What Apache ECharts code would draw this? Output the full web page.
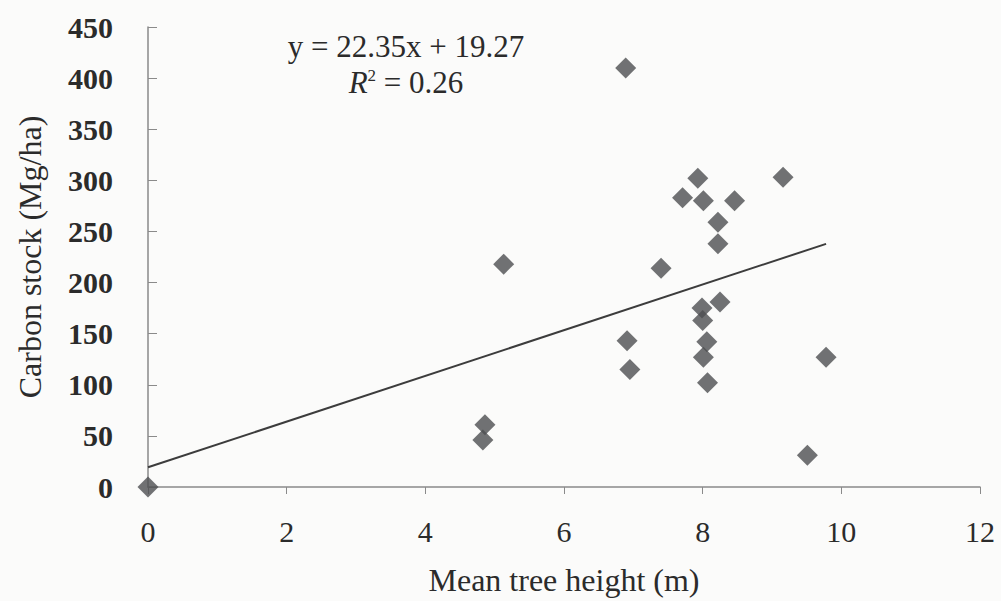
<!DOCTYPE html>
<html>
<head>
<meta charset="utf-8">
<script src="https://cdn.jsdelivr.net/npm/echarts@6/dist/echarts.min.js"></script>
<style>
html,body{margin:0;padding:0;background:#fbfbfa;}
#chart{width:1001px;height:601px;}
</style>
</head>
<body>
<div id="chart"></div>
<script>
// Mean tree height (m)
const heights = [0, 4.86, 4.83, 5.13, 6.89, 6.91, 6.95, 7.40, 7.71, 7.93, 8.01, 8.46, 8.22, 8.22, 8.25, 7.99, 8.00, 8.06, 8.01, 8.07, 9.16, 9.78, 9.51];
// Carbon stock (Mg/ha)
const carbon = [0, 61, 46, 218, 410, 143, 115, 214, 283, 302, 280, 280, 259, 238, 181, 175, 163, 142, 127, 102, 303, 127, 31];
// Regression reported on the chart
const slope = 22.35;
const intercept = 19.27;
const eqText = 'y = 22.35x + 19.27';
const r2Text = '= 0.26';
const xTicks = [0, 2, 4, 6, 8, 10, 12];
const yTicks = [0, 50, 100, 150, 200, 250, 300, 350, 400, 450];
const xTitle = 'Mean tree height (m)';
const yTitle = 'Carbon stock (Mg/ha)';

const points = heights.map((h, i) => [h, carbon[i]]);
const xMax = Math.max(...heights);
const trend = [[0, intercept], [xMax, slope * xMax + intercept]];

const FONT = "'Liberation Serif', 'Times New Roman', serif";
const TXT = '#2b2b2b';

const chart = echarts.init(document.getElementById('chart'), null, {renderer: 'svg'});
chart.setOption({
  backgroundColor: '#fbfbfa',
  animation: false,
  grid: {left: 148, right: 21, top: 27, bottom: 111},
  xAxis: {
    type: 'value', min: xTicks[0], max: xTicks[xTicks.length - 1], interval: 2,
    name: xTitle, nameLocation: 'middle', nameGap: 77,
    nameTextStyle: {fontFamily: FONT, fontSize: 32, color: TXT},
    axisLine: {show: true, onZero: false, lineStyle: {color: '#8a8a8a', width: 1.5}},
    axisTick: {show: true, inside: false, length: 7, lineStyle: {color: '#8a8a8a'}},
    splitLine: {show: false},
    axisLabel: {fontFamily: FONT, fontSize: 30, color: TXT, margin: 29}
  },
  yAxis: {
    type: 'value', min: yTicks[0], max: yTicks[yTicks.length - 1], interval: 50,
    name: yTitle, nameLocation: 'middle', nameGap: 102, nameRotate: 90,
    nameTextStyle: {fontFamily: FONT, fontSize: 32, color: TXT},
    axisLine: {show: true, lineStyle: {color: '#8a8a8a', width: 1.5}},
    axisTick: {show: true, inside: true, length: 9, lineStyle: {color: '#8a8a8a'}},
    splitLine: {show: false},
    axisLabel: {fontFamily: FONT, fontSize: 30, fontWeight: 'bold', color: TXT, margin: 35}
  },
  series: [
    {
      type: 'line', data: trend, symbol: 'none', silent: true,
      lineStyle: {color: '#3c3c3c', width: 2}, z: 2
    },
    {
      type: 'scatter', data: points, symbol: 'diamond', symbolSize: 21, clip: false,
      itemStyle: {color: '#4d4f51'}, z: 3
    }
  ],
  graphic: [
    {type: 'text', style: {text: eqText, x: 406, y: 46, align: 'center', verticalAlign: 'middle', font: "31px 'Liberation Serif', serif", fill: TXT}},
    {type: 'text', style: {
      text: '{i|R}{s|2}{n| ' + r2Text + '}', x: 406, y: 82, align: 'center', verticalAlign: 'middle',
      rich: {
        i: {fontFamily: FONT, fontSize: 31, fontStyle: 'italic', fill: TXT, color: TXT},
        s: {fontFamily: FONT, fontSize: 17, fill: TXT, color: TXT, verticalAlign: 'top', padding: [0, 0, 14, 0]},
        n: {fontFamily: FONT, fontSize: 31, fill: TXT, color: TXT}
      }
    }}
  ]
});
</script>
</body>
</html>
